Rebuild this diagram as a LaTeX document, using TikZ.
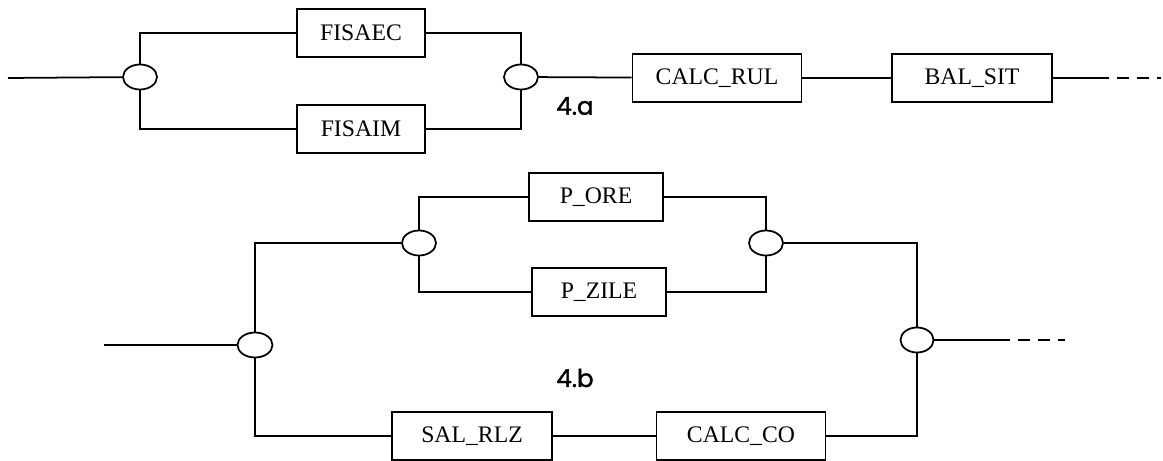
\documentclass[tikz,border=0pt]{standalone}
\usepackage{fontspec}
\setmainfont{Liberation Serif}
\newfontfamily\labelfont[FakeBold=1.6]{Poppins}
\usetikzlibrary{shapes.geometric,positioning}

\begin{document}
\begin{tikzpicture}[
 font=\fontsize{13.5}{16}\selectfont,
 line width=1pt,
 box/.style={draw,minimum height=0.96cm,inner sep=1pt},
 joint/.style={draw,ellipse,minimum width=0.68cm,minimum height=0.50cm,inner sep=0pt},
 lnk/.style={line width=1pt},
 tail/.style={line width=1.1pt,dash pattern=on 0.24cm off 0.16cm},
 tag/.style={font=\labelfont\fontsize{14}{16}\selectfont}]
\useasboundingbox (0,0) rectangle (23.26,-9.22);
% 4.a
\coordinate (ina) at (0.16,-1.56);
\node[joint] (ja1) at (2.80,-1.54) {};
\node[box,minimum width=2.56cm] (fisaec) at (7.22,-0.66) {FISAEC};
\node[box,minimum width=2.56cm] (fisaim) at (7.22,-2.58) {FISAIM};
\node[joint] (ja2) at (10.42,-1.54) {};
\node[box,minimum width=3.38cm] (calcrul) at (14.34,-1.56) {CALC\_RUL};
\node[box,minimum width=3.20cm] (balsit) at (19.44,-1.56) {BAL\_SIT};
\coordinate (ta1) at (21.94,-1.56);
\coordinate (ta2) at (23.22,-1.56);
\node[tag] (laba) at (11.50,-2.12) {4.a};
\draw[lnk] (ina) -- (ja1);
\draw[lnk] (ja1.north) |- (fisaec.west);
\draw[lnk] (ja1.south) |- (fisaim.west);
\draw[lnk] (fisaec.east) -| (ja2.north);
\draw[lnk] (fisaim.east) -| (ja2.south);
\draw[lnk] (ja2) -- (calcrul);
\draw[lnk] (calcrul) -- (balsit);
\draw[lnk] (balsit.east) -- (ta1);
\draw[tail] (ta1) -- (ta2);
% 4.b
\coordinate (inb) at (2.08,-6.90);
\node[joint,minimum width=0.70cm] (jb1) at (5.10,-6.90) {};
\node[joint] (jb2) at (8.38,-4.86) {};
\node[box,minimum width=2.68cm] (pore) at (11.92,-3.94) {P\_ORE};
\node[box,minimum width=2.68cm] (pzile) at (11.98,-5.84) {P\_ZILE};
\node[joint] (jb3) at (15.32,-4.86) {};
\node[joint,minimum width=0.66cm] (jb4) at (18.34,-6.80) {};
\node[box,minimum width=3.20cm] (salrlz) at (9.44,-8.72) {SAL\_RLZ};
\node[box,minimum width=3.38cm] (calcco) at (14.82,-8.72) {CALC\_CO};
\coordinate (tb1) at (19.96,-6.80);
\coordinate (tb2) at (21.30,-6.80);
\node[tag] (labb) at (11.50,-7.56) {4.b};
\draw[lnk] (inb) -- (jb1);
\draw[lnk] (jb1.north) |- (jb2.west);
\draw[lnk] (jb1.south) |- (salrlz.west);
\draw[lnk] (jb2.north) |- (pore.west);
\draw[lnk] (jb2.south) |- (pzile.west);
\draw[lnk] (pore.east) -| (jb3.north);
\draw[lnk] (pzile.east) -| (jb3.south);
\draw[lnk] (jb3.east) -| (jb4.north);
\draw[lnk] (salrlz) -- (calcco);
\draw[lnk] (calcco.east) -| (jb4.south);
\draw[lnk] (jb4.east) -- (tb1);
\draw[tail] (tb1) -- (tb2);
\end{tikzpicture}
\end{document}
